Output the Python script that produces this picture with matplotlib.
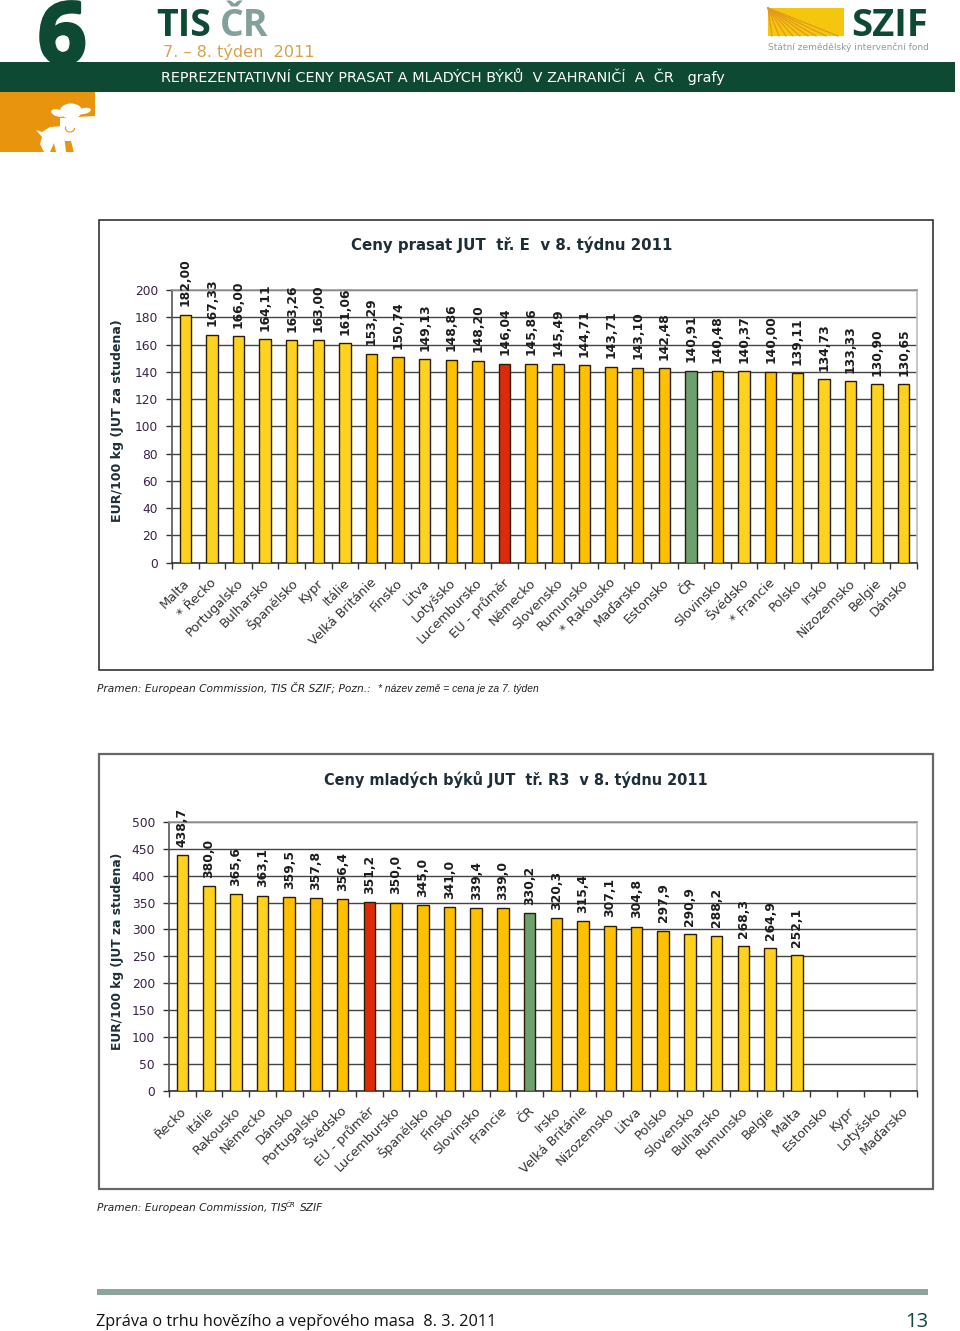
import matplotlib
matplotlib.use('Agg')
import matplotlib.pyplot as plt
import matplotlib.patheffects as pe
from matplotlib.patches import Rectangle, Ellipse, Polygon, Arc

W, H = 960, 1331

# first chart - pigs
pig_labels = ['Malta', '* Řecko', 'Portugalsko', 'Bulharsko', 'Španělsko', 'Kypr', 'Itálie',
              'Velká Británie', 'Finsko', 'Litva', 'Lotyšsko', 'Lucembursko', 'EU - průměr',
              'Německo', 'Slovensko', 'Rumunsko', '* Rakousko', 'Maďarsko', 'Estonsko', 'ČR',
              'Slovinsko', 'Švédsko', '* Francie', 'Polsko', 'Irsko', 'Nizozemsko', 'Belgie', 'Dánsko']
pig_values = [182.00, 167.33, 166.00, 164.11, 163.26, 163.00, 161.06, 153.29, 150.74, 149.13,
              148.86, 148.20, 146.04, 145.86, 145.49, 144.71, 143.71, 143.10, 142.48, 140.91,
              140.48, 140.37, 140.00, 139.11, 134.73, 133.33, 130.90, 130.65]
pig_kinds = list('lllllllooloo' + 'r' + 'oooooo' + 'g' + 'olo' + 'lllll')
pig_ticks = list(range(0, 201, 20))

# second chart - young bulls
bull_labels = ['Řecko', 'Itálie', 'Rakousko', 'Německo', 'Dánsko', 'Portugalsko', 'Švédsko',
               'EU - průměr', 'Lucembursko', 'Španělsko', 'Finsko', 'Slovinsko', 'Francie', 'ČR',
               'Irsko', 'Velká Británie', 'Nizozemsko', 'Litva', 'Polsko', 'Slovensko', 'Bulharsko',
               'Rumunsko', 'Belgie', 'Malta', 'Estonsko', 'Kypr', 'Lotyšsko', 'Maďarsko']
bull_values = [438.7, 380.0, 365.6, 363.1, 359.5, 357.8, 356.4, 351.2, 350.0, 345.0, 341.0, 339.4,
               339.0, 330.2, 320.3, 315.4, 307.1, 304.8, 297.9, 290.9, 288.2, 268.3, 264.9, 252.1]
bull_kinds = list('llll' + 'ooo' + 'r' + 'ooooo' + 'g' + 'ooooo' + 'lllll')
bull_ticks = list(range(0, 501, 50))

colors = {'l': '#FFD21F', 'o': '#FFC000', 'r': '#DD2A08', 'g': '#6E9F6E'}
DARK = '#0E4A33'
ORANGE = '#E8940E'
plt.rcParams['font.family'] = ['DejaVu Sans']

fig = plt.figure(figsize=(W / 100, H / 100), dpi=100, facecolor='white')

# page furniture in pixel coordinates
page = fig.add_axes([0, 0, 1, 1])
page.set_xlim(0, W)
page.set_ylim(H, 0)
page.axis('off')


def box(x0, y0, x1, y1, **kw):
    page.add_patch(Rectangle((x0, y0), x1 - x0, y1 - y0, **kw))


six = page.text(38, 63, '6', fontsize=61, fontweight='bold', family='Open Sans', color=DARK, va='baseline')
six.set_path_effects([pe.withStroke(linewidth=2.5, foreground=DARK)])
box(0, 62, 955, 91.5, color=DARK, lw=0, zorder=3)
page.text(156, 36, 'TIS', fontsize=27, fontweight='bold', family='Open Sans', color=DARK)
page.text(220, 36, 'ČR', fontsize=27, fontweight='bold', family='Open Sans', color='#84A09B')
page.text(163, 56.5, '7. – 8. týden  2011', fontsize=11.6, color='#D9A04E')
page.text(161, 82, 'REPREZENTATIVNÍ CENY PRASAT A MLADÝCH BÝKŮ  V ZAHRANIČÍ  A  ČR   grafy',
          fontsize=10.35, color='white', zorder=4)

# orange box and animals
box(0, 92, 95, 117, color=ORANGE, lw=0)
box(0, 117, 74, 152, color=ORANGE, lw=0)
page.add_patch(Polygon([(60, 118), (95, 116), (95, 153), (74, 153), (71, 141), (65, 141), (60, 128)], color='white', lw=0))
page.add_patch(Ellipse((71, 111), 22, 15, color='white', lw=0))
page.add_patch(Ellipse((58, 113), 14, 7, angle=15, color='white', lw=0))
page.add_patch(Ellipse((84, 111), 14, 6, angle=-12, color='white', lw=0))
page.add_patch(Polygon([(36, 130), (42, 132), (50, 127), (63, 126), (66, 152), (56, 152), (54, 143), (50, 152), (44, 152),
                        (40, 144), (42, 137)], color='white', lw=0))
page.add_patch(Arc((70, 128), 9, 8, theta1=0, theta2=200, color=ORANGE, lw=0.8))

# SZIF logo
box(768, 8, 844, 36, color='#F5C60E', lw=0)
for tx in [772, 779, 786, 793, 800, 808, 816, 826, 838]:
    page.plot([768, tx], [8, 36], color='#E39A1C', lw=0.9)
page.text(851, 36, 'SZIF', fontsize=27.5, fontweight='bold', family='Open Sans', color=DARK)
page.text(768, 50, 'Státní zemědělský intervenční fond', fontsize=6.5, color='#8C9C98')

# chart frames
box(98.5, 219.5, 933, 669.5, fill=False, ec='#222222', lw=1.1)
box(98.5, 754, 932.5, 1189, fill=False, ec='#666666', lw=1.6)

# sources and footer
page.text(97, 692, 'Pramen: European Commission, TIS ČR SZIF; Pozn.:', fontsize=7.65, style='italic', color='#222222')
page.text(378, 692, '* název země = cena je za 7. týden', fontsize=7.4, style='italic',
          family='Liberation Sans', color='#222222')
page.text(97, 1211, 'Pramen: European Commission, TIS', fontsize=7.65, style='italic', color='#222222')
page.text(286, 1207, 'ČR', fontsize=5, style='italic', color='#222222')
page.text(300, 1211, 'SZIF', fontsize=7.65, style='italic', color='#222222')
box(97, 1289, 928, 1295, color='#8CA39E', lw=0)
page.text(96, 1326, 'Zpráva o trhu hovězího a vepřového masa  8. 3. 2011', fontsize=11.67,
          family='Open Sans', color='#111111')
page.text(928, 1327, '13', fontsize=14.5, family='Open Sans', color=DARK, ha='right')


def draw_chart(rect, labels, values, kinds, ticks, title, title_xy, title_size, ylabel_x, ylabel_y, ylabel_size):
    x0, ytop, x1, ybot = rect
    ax = fig.add_axes([x0 / W, 1 - ybot / H, (x1 - x0) / W, (ybot - ytop) / H])
    ax.patch.set_alpha(0)
    pos = list(range(len(values)))
    ax.bar(pos, values, width=0.43, color=[colors[k] for k in kinds], edgecolor='#2A1E00',
           linewidth=1.0, zorder=3)
    ax.set_xlim(-0.5, len(labels) - 0.5)
    ax.set_ylim(ticks[0], ticks[-1])
    ax.set_yticks(ticks)
    ax.set_yticklabels([str(t) for t in ticks], fontsize=8.8, color='#3B2048')
    ax.set_xticks([p - 0.5 for p in range(len(labels) + 1)])
    ax.set_xticklabels([])
    ax.tick_params(axis='y', length=4, width=1, color='#333333', pad=6)
    ax.tick_params(axis='x', length=4, width=1, color='#333333')
    ax.grid(axis='y', color='#444444', lw=1.0, zorder=1)
    ax.set_axisbelow(True)
    for side, col in [('top', '#999999'), ('right', '#BBBBBB'), ('left', '#555555'), ('bottom', '#333333')]:
        ax.spines[side].set_color(col)
        ax.spines[side].set_linewidth(1.2)
    for p, name in enumerate(labels):
        ax.annotate(name, (p, 0), xytext=(-1.5, -10), textcoords='offset points', rotation=45, ha='right',
                    va='top', rotation_mode='anchor', fontsize=9.3, color='#333333', annotation_clip=False)
    for p, v in zip(pos, values):
        txt = f'{v:.2f}' if ticks[-1] == 200 else f'{v:.1f}'
        ax.annotate(txt.replace('.', ','), (p, v), xytext=(0, 6), textcoords='offset points', rotation=90,
                    ha='center', va='bottom', fontsize=8.9, fontweight='bold', color='#1C1C1C',
                    annotation_clip=False, zorder=4)
    page.text(title_xy[0], title_xy[1], title, fontsize=title_size, fontweight='bold', color='#1E2E38',
              ha='left', va='center')
    page.text(ylabel_x, ylabel_y, 'EUR/100 kg (JUT za studena)', fontsize=ylabel_size, fontweight='bold',
              color='#1E2E38', rotation=90, ha='center', va='center')
    return ax


draw_chart((172, 290, 917, 562.5), pig_labels, pig_values, pig_kinds, pig_ticks,
           'Ceny prasat JUT  tř. E  v 8. týdnu 2011', (351, 245), 10.85, 118, 421, 9.05)
draw_chart((169, 822, 917, 1090.5), bull_labels, bull_values, bull_kinds, bull_ticks,
           'Ceny mladých býků JUT  tř. R3  v 8. týdnu 2011', (324, 779), 10.45, 117, 951, 8.8)

fig.savefig('out.png', dpi=100)
